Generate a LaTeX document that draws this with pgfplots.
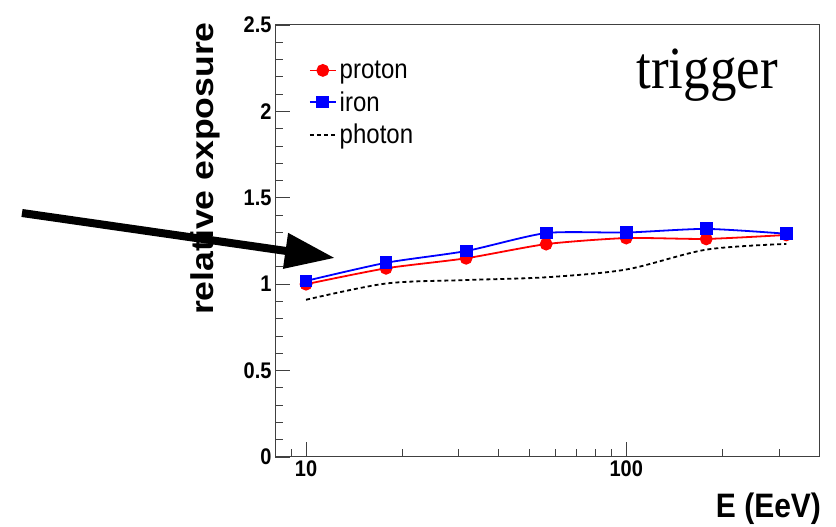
\documentclass[border=0pt]{standalone}
\usepackage{pgfplots}
\pgfplotsset{compat=1.18}
\usepackage{graphicx}
\usepackage{fontspec}
\setmainfont{Liberation Sans}
\newfontfamily\timesf{Liberation Serif}
\usetikzlibrary{arrows.meta}
\newcommand{\V}[1]{\scalebox{1}[1.13]{#1}}
\newcommand{\TL}[1]{\V{\fontsize{20}{23}\selectfont\bfseries #1}}

\begin{document}
\begin{tikzpicture}[x=1pt,y=1pt]
\useasboundingbox (0,0) rectangle (836,527);
\begin{axis}[
  at={(275pt,70pt)}, anchor=south west,
  scale only axis, width=544pt, height=432pt,
  clip=false,
  xmode=log, xmin=8, xmax=400, ymin=0, ymax=2.5,
  xtick={10,100}, xticklabels={\TL{10},\TL{100}},
  minor xtick={9,20,30,40,50,60,70,80,90,200,300},
  ytick={0,0.5,1,1.5,2,2.5},
  yticklabels={\TL{0},\TL{0.5},\TL{1},\TL{1.5},\TL{2},\TL{2.5}},
  minor y tick num=4,
  tick align=inside, xtick pos=left, ytick pos=left,
  major tick length=15pt, minor tick length=8pt,
  axis line style={draw=black!75, line width=1pt},
  every tick/.append style={black!75, line width=0.9pt},
  legend style={draw=none, fill=none, at={(0.062,0.922)}, anchor=north west,
    font=\fontsize{24}{27}\selectfont, row sep=7.5pt, inner sep=0pt,
    nodes={inner xsep=3pt, inner ysep=2pt}},
  legend cell align=left,
  legend image code/.code={\draw[mark repeat=2,mark phase=2,#1] plot coordinates {(0pt,0pt) (13pt,0pt) (26pt,0pt)};},
]
\addplot[red, line width=1.8pt, smooth, tension=0.4, mark=*, mark size=5.5pt, mark options={solid}]
  coordinates {(10,1.0) (17.78,1.092) (31.62,1.150) (56.23,1.232) (100,1.267) (177.8,1.262) (316.2,1.285)};
\addlegendentry{\V{proton}}
\addplot[blue, line width=1.8pt, smooth, tension=0.4, mark=square*, mark size=5.5pt, mark options={solid}]
  coordinates {(10,1.019) (17.78,1.124) (31.62,1.192) (56.23,1.296) (100,1.299) (177.8,1.32) (316.2,1.292)};
\addlegendentry{\V{iron}}
\addplot[black, line width=1.8pt, smooth, tension=0.5, dash pattern=on 4pt off 3pt]
  coordinates {(10,0.91) (17.78,1.004) (31.62,1.024) (56.23,1.04) (100,1.085) (177.8,1.2) (316.2,1.233)};
\addlegendentry{\V{photon}}
\node[rotate=90, anchor=east, inner sep=0pt, font=\fontsize{31.5}{36}\selectfont\bfseries]
  at (rel axis cs:-0.1285,1.007) {\scalebox{1.13}[1]{relative exposure}};
\node[anchor=base east, inner sep=0pt, font=\fontsize{30}{34}\selectfont\bfseries]
  at (rel axis cs:1.004,-0.139) {\V{E (EeV)}};
\node[anchor=base east, inner sep=0pt, font=\timesf\fontsize{53}{60}\selectfont]
  at (rel axis cs:0.9246,0.852) {\V{trigger}};
\end{axis}
\draw[line width=8pt, -{Triangle[length=50pt,width=34pt]}] (22,314) -- (335,269);
\end{tikzpicture}
\end{document}
